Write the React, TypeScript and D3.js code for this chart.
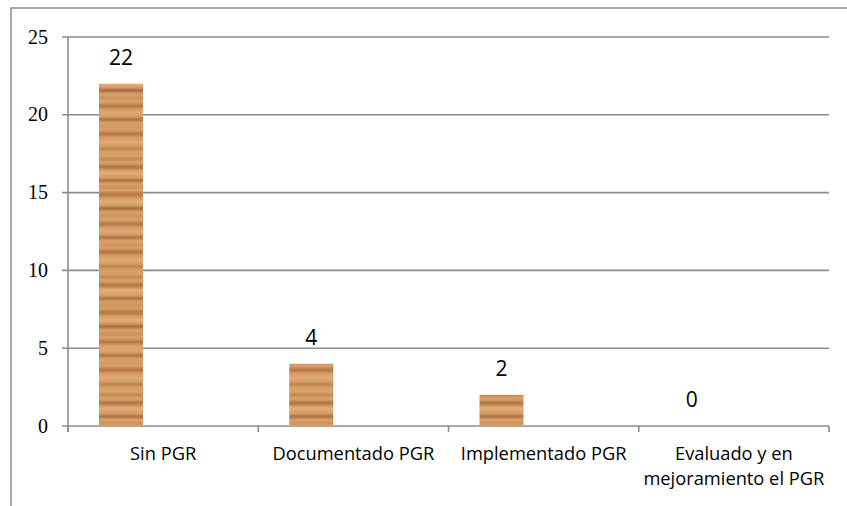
import React, { useEffect, useRef } from 'react';
import * as d3 from 'd3';

const categories = ['Sin PGR', 'Documentado PGR', 'Implementado PGR', 'Evaluado y en mejoramiento el PGR'];
const values = [22, 4, 2, 0];
const yTicks = [0, 5, 10, 15, 20, 25];

// wood-ish stripes for the bar fill
const woodStripes = [
  { y: 3, h: 2, c: '#b37441' }, { y: 10, h: 4, c: '#a5663a' }, { y: 17, h: 2, c: '#e8b888' },
  { y: 24, h: 3, c: '#9a5e33' }, { y: 31, h: 2, c: '#c68a55' }, { y: 37, h: 5, c: '#b0703f' },
  { y: 46, h: 2, c: '#ebbb8a' }, { y: 52, h: 3, c: '#8e552d' }, { y: 60, h: 2, c: '#c08650' },
  { y: 67, h: 4, c: '#a86b3c' }, { y: 75, h: 2, c: '#e3ae7b' }, { y: 81, h: 3, c: '#9b6034' },
  { y: 89, h: 2, c: '#c99059' }, { y: 95, h: 4, c: '#a96a3a' }, { y: 104, h: 2, c: '#e6b584' },
  { y: 110, h: 3, c: '#b57742' },
];

export default function App() {
  const ref = useRef<SVGSVGElement>(null);

  useEffect(() => {
    const svgWidth = 847, svgHeight = 506;
    const pad = { top: 37, left: 68, right: 18, bottom: 80 };
    const width = svgWidth - pad.left - pad.right;
    const height = svgHeight - pad.top - pad.bottom;
    const grid = '#8c8c8c';
    const sans = "'Open Sans', sans-serif";

    const svg = d3.select(ref.current).attr('width', svgWidth).attr('height', svgHeight);
    svg.selectAll('*').remove();

    const defs = svg.append('defs');
    defs.append('filter').attr('id', 'vblur').attr('x', '-10%').attr('y', '-10%')
      .attr('width', '120%').attr('height', '120%')
      .append('feGaussianBlur').attr('stdDeviation', '0 1.2');
    const pat = defs.append('pattern')
      .attr('id', 'wood').attr('patternUnits', 'userSpaceOnUse')
      .attr('width', 44).attr('height', 118);
    pat.append('rect').attr('width', 44).attr('height', 118).attr('fill', '#d89f69');
    pat.append('g').attr('filter', 'url(#vblur)')
      .selectAll('rect').data(woodStripes).enter().append('rect')
      .attr('x', -6).attr('width', 56)
      .attr('y', d => d.y).attr('height', d => d.h).attr('fill', d => d.c).attr('opacity', 0.75);

    // outer frame
    svg.append('rect').attr('x', 11).attr('y', 8).attr('width', 900).attr('height', 600)
      .attr('fill', 'none').attr('stroke', grid).attr('stroke-width', 1.5);

    const g = svg.append('g').attr('transform', `translate(${pad.left},${pad.top})`);

    const x = d3.scaleBand().domain(categories).range([0, width]);
    const y = d3.scaleLinear().domain([0, 25]).range([height, 0]);

    // gridlines + y ticks
    g.append('g').selectAll('line').data(yTicks).enter().append('line')
      .attr('x1', -6).attr('x2', width)
      .attr('y1', d => y(d)).attr('y2', d => y(d))
      .attr('stroke', grid).attr('stroke-width', 1.6);

    g.append('g').selectAll('text').data(yTicks).enter().append('text')
      .attr('x', -20).attr('y', d => y(d)).attr('dy', '0.33em')
      .attr('text-anchor', 'end')
      .style('font-family', "'Liberation Serif', 'Times New Roman', serif")
      .style('font-size', '20px').text(d => d);

    // y axis line
    g.append('line').attr('x1', 0).attr('x2', 0).attr('y1', 0).attr('y2', height + 6)
      .attr('stroke', grid).attr('stroke-width', 1.6);

    // category ticks
    const edges = categories.map(c => x(c)! + x.bandwidth()).concat([0]);
    g.append('g').selectAll('line').data(edges).enter().append('line')
      .attr('x1', d => d).attr('x2', d => d).attr('y1', height).attr('y2', height + 6)
      .attr('stroke', grid).attr('stroke-width', 1.6);

    const barW = 44;
    const barOff = 31;
    const bars = g.append('g').selectAll('g').data(values).enter().append('g');
    bars.append('rect')
      .attr('x', (d, i) => x(categories[i])! + barOff)
      .attr('width', barW)
      .attr('y', d => y(d))
      .attr('height', d => height - y(d))
      .attr('fill', 'url(#wood)');
    bars.append('text')
      .attr('x', (d, i) => x(categories[i])! + barOff + barW / 2)
      .attr('y', d => y(d) - 19)
      .attr('text-anchor', 'middle')
      .style('font-family', sans)
      .style('font-size', '21px').text(d => d);

    // category labels, wrapped
    const labels = g.append('g').selectAll('text').data(categories).enter().append('text')
      .attr('x', d => x(d)! + x.bandwidth() / 2)
      .attr('y', height + 34)
      .attr('text-anchor', 'middle')
      .style('font-family', sans)
      .style('font-size', '18.3px');
    labels.each(function (d) {
      const t = d3.select(this);
      const words = d.split(' ');
      let line: string[] = [];
      let tspan = t.append('tspan').attr('x', t.attr('x')).attr('dy', 0);
      words.forEach(w => {
        line.push(w);
        tspan.text(line.join(' '));
        if ((tspan.node() as SVGTSpanElement).getComputedTextLength() > 190 && line.length > 1) {
          line.pop();
          tspan.text(line.join(' '));
          line = [w];
          tspan = t.append('tspan').attr('x', t.attr('x')).attr('dy', 25).text(w);
        }
      });
    });
  }, []);

  return (
    <div style={{ position: 'absolute', left: 0, top: 0 }}>
      <svg ref={ref}></svg>
    </div>
  );
}
